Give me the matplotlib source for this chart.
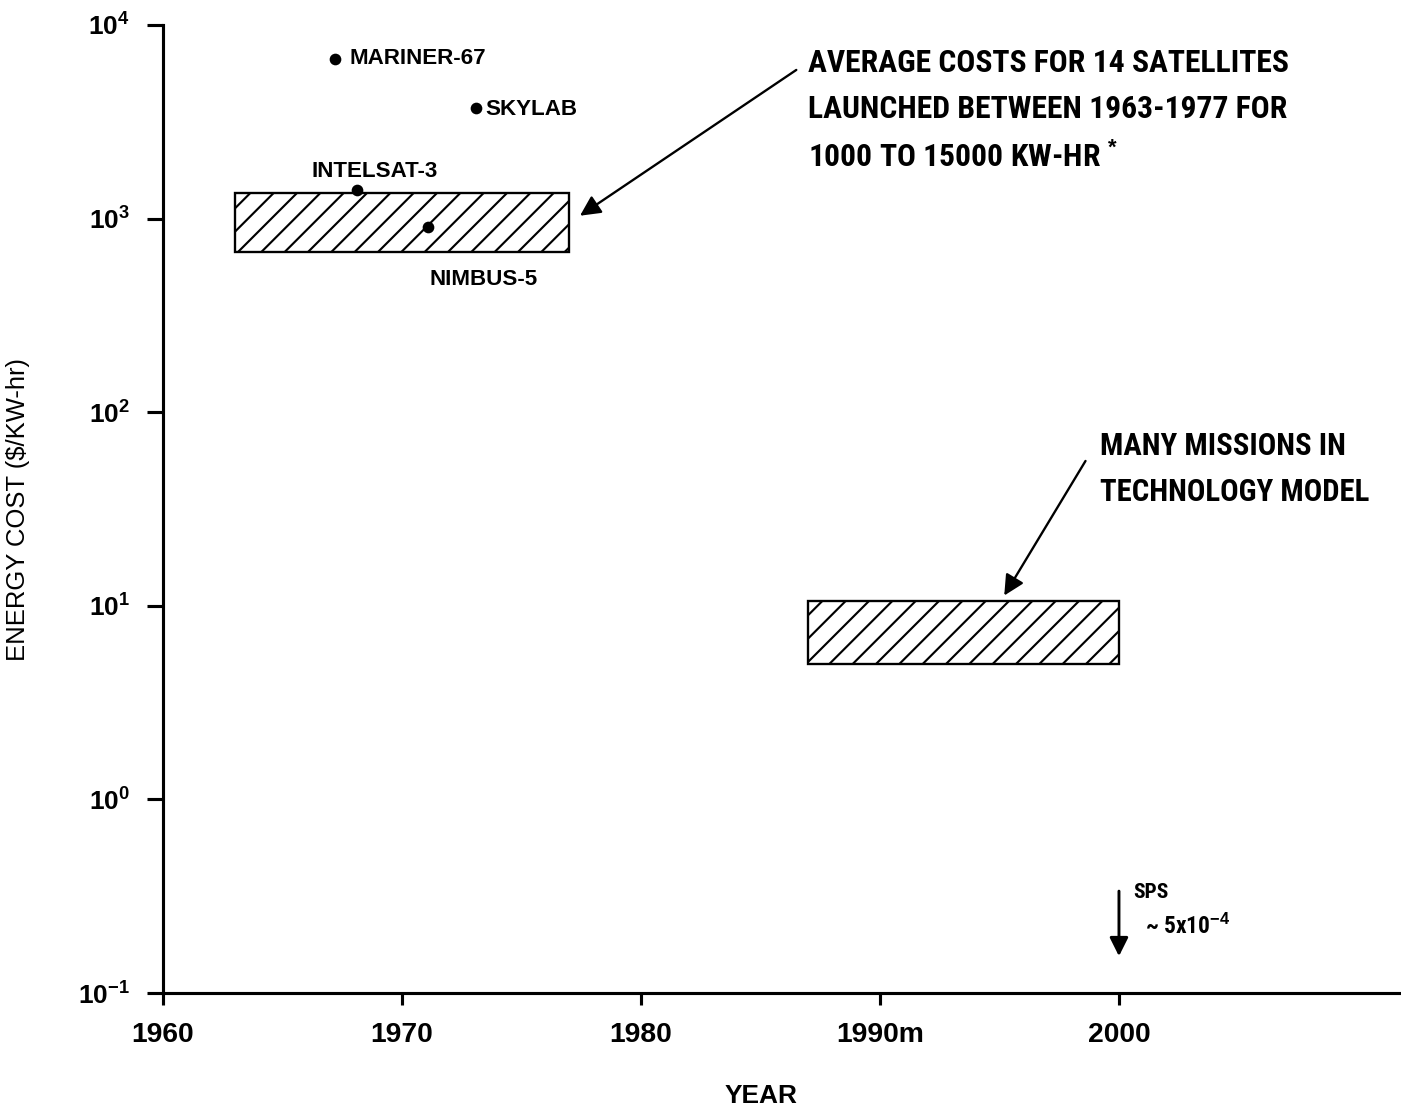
import matplotlib
matplotlib.use("Agg")
import matplotlib.pyplot as plt
from matplotlib import font_manager
from matplotlib.font_manager import FontProperties
from matplotlib.patches import Rectangle

# cost bands: (start year, end year, low $/kW-hr, high $/kW-hr)
band_start = [1963, 1987]
band_end = [1977, 2000]
band_low = [670, 5.0]
band_high = [1350, 10.6]

# individual missions
mission_names = ["MARINER-67", "SKYLAB", "INTELSAT-3", "NIMBUS-5"]
mission_years = [1967.2, 1973.1, 1968.1, 1971.1]
mission_costs = [6700, 3730, 1410, 900]

year_ticks = [1960, 1970, 1980, 1990, 2000]
year_labels = ["1960", "1970", "1980", "1990m", "2000"]
cost_ticks = [1e-1, 1e0, 1e1, 1e2, 1e3, 1e4]
cost_labels = [r"$10^{-1}$", r"$10^{0}$", r"$10^{1}$", r"$10^{2}$",
               r"$10^{3}$", r"$10^{4}$"]


def condensed_bold():
    """Path of a bold condensed sans face, or None."""
    prefs = ["Roboto", "Noto Sans", "DejaVu Sans", "Liberation Sans",
             "Open Sans"]
    found = {}
    for f in font_manager.fontManager.ttflist:
        w = f.weight
        if isinstance(w, str):
            w = font_manager.weight_dict.get(w, 400)
        cond = (str(f.stretch) in ("condensed", "semi-condensed",
                                   "extra-condensed")
                or "Condensed" in f.name or "Narrow" in f.name
                or "Condensed" in f.fname or "Narrow" in f.fname)
        if cond and 650 <= w <= 800 and f.style == "normal":
            for p in prefs:
                if f.name.startswith(p):
                    found.setdefault(p, f.fname)
    for p in prefs:
        if p in found:
            return found[p]
    return None


cond_path = condensed_bold()


def cond_font(size):
    if cond_path:
        return FontProperties(fname=cond_path, size=size)
    return FontProperties(family="Liberation Sans", weight="bold", size=size)


plt.rcParams["font.family"] = ["Liberation Sans", "DejaVu Sans"]
plt.rcParams["mathtext.fontset"] = "custom"
plt.rcParams["mathtext.rm"] = "Liberation Sans:bold"
plt.rcParams["mathtext.it"] = "Liberation Sans:bold"
plt.rcParams["mathtext.bf"] = "Liberation Sans:bold"
plt.rcParams["hatch.linewidth"] = 1.1

DPI = 140
fig = plt.figure(figsize=(1401 / DPI, 1111 / DPI), dpi=DPI)
ax = fig.add_axes([0.1163, 0.1062, 0.8837, 0.8713])
renderer = fig.canvas.get_renderer()


def fit_width(txt, target_px):
    # shrink or grow a text so its widest line spans target_px
    w = txt.get_window_extent(renderer).width
    fp = txt.get_fontproperties()
    fp.set_size(fp.get_size() * target_px / w)
    txt.set_fontproperties(fp)


ax.set_yscale("log")
ax.set_xlim(1960, 2011.8)
ax.set_ylim(1e-1, 1e4)

for side in ("top", "right"):
    ax.spines[side].set_visible(False)
for side in ("left", "bottom"):
    ax.spines[side].set_linewidth(1.6)

ax.set_xticks(year_ticks)
ax.set_xticklabels(year_labels, fontweight="bold", fontsize=14.5)
ax.set_yticks(cost_ticks)
ax.set_yticklabels(cost_labels, fontsize=13.5)
ax.yaxis.set_minor_locator(matplotlib.ticker.NullLocator())
ax.tick_params(axis="x", length=6, width=1.6, pad=9)
ax.tick_params(axis="y", length=8, width=1.6, pad=9)

ax.set_ylabel("ENERGY COST ($/KW-hr)", fontsize=13.2)
ax.yaxis.set_label_coords(-0.1074, 0.5)
ax.set_xlabel("YEAR", fontsize=13.5, fontweight="bold")
ax.xaxis.set_label_coords(0.483, -0.094)

# hatched bands
for x0, x1, lo, hi in zip(band_start, band_end, band_low, band_high):
    ax.add_patch(Rectangle((x0, lo), x1 - x0, hi - lo, facecolor="white",
                           edgecolor="black", hatch="//", linewidth=1.2,
                           zorder=2))

# missions
ax.plot(mission_years, mission_costs, "o", color="black", markersize=5,
        zorder=3)
label_offsets = [(14, 0, "left"), (9, -2, "left"),
                 (18, 18, "center"), (55, -52, "center")]
for name, x, y, (dx, dy, ha) in zip(mission_names, mission_years,
                                    mission_costs, label_offsets):
    ax.annotate(name, (x, y), xytext=(dx, dy), textcoords="offset pixels",
                ha=ha, va="center", fontsize=11.5, fontweight="bold",
                zorder=4)

arrow = dict(arrowstyle="-|>", color="black", lw=1.2, mutation_scale=22,
             shrinkA=0, shrinkB=0)

ax.annotate("", xy=(1977.45, 1035), xytext=(1986.5, 5860), arrowprops=arrow)
t1 = ax.text(1987.0, 7600,
             "AVERAGE COSTS FOR 14 SATELLITES\n"
             "LAUNCHED BETWEEN 1963-1977 FOR\n"
             "1000 TO 15000 KW-HR $^{*}$",
             ha="left", va="top", fontproperties=cond_font(18),
             linespacing=1.68)
fit_width(t1, 482)

ax.annotate("", xy=(1995.2, 11.3), xytext=(1998.6, 56), arrowprops=arrow)
t2 = ax.text(1999.2, 80, "MANY MISSIONS IN\nTECHNOLOGY MODEL",
             ha="left", va="top", fontproperties=cond_font(18),
             linespacing=1.68)
fit_width(t2, 270)

ax.annotate("", xy=(2000.0, 0.155), xytext=(2000.0, 0.336),
            arrowprops=dict(arrow, lw=1.5, mutation_scale=20))
ax.text(2000.6, 0.33, "SPS", ha="left", va="center",
        fontproperties=cond_font(11))
ax.text(2001.1, 0.22, "~ 5x10$^{-4}$", ha="left", va="center",
        fontproperties=cond_font(12))

fig.savefig("out.png", dpi=DPI)
